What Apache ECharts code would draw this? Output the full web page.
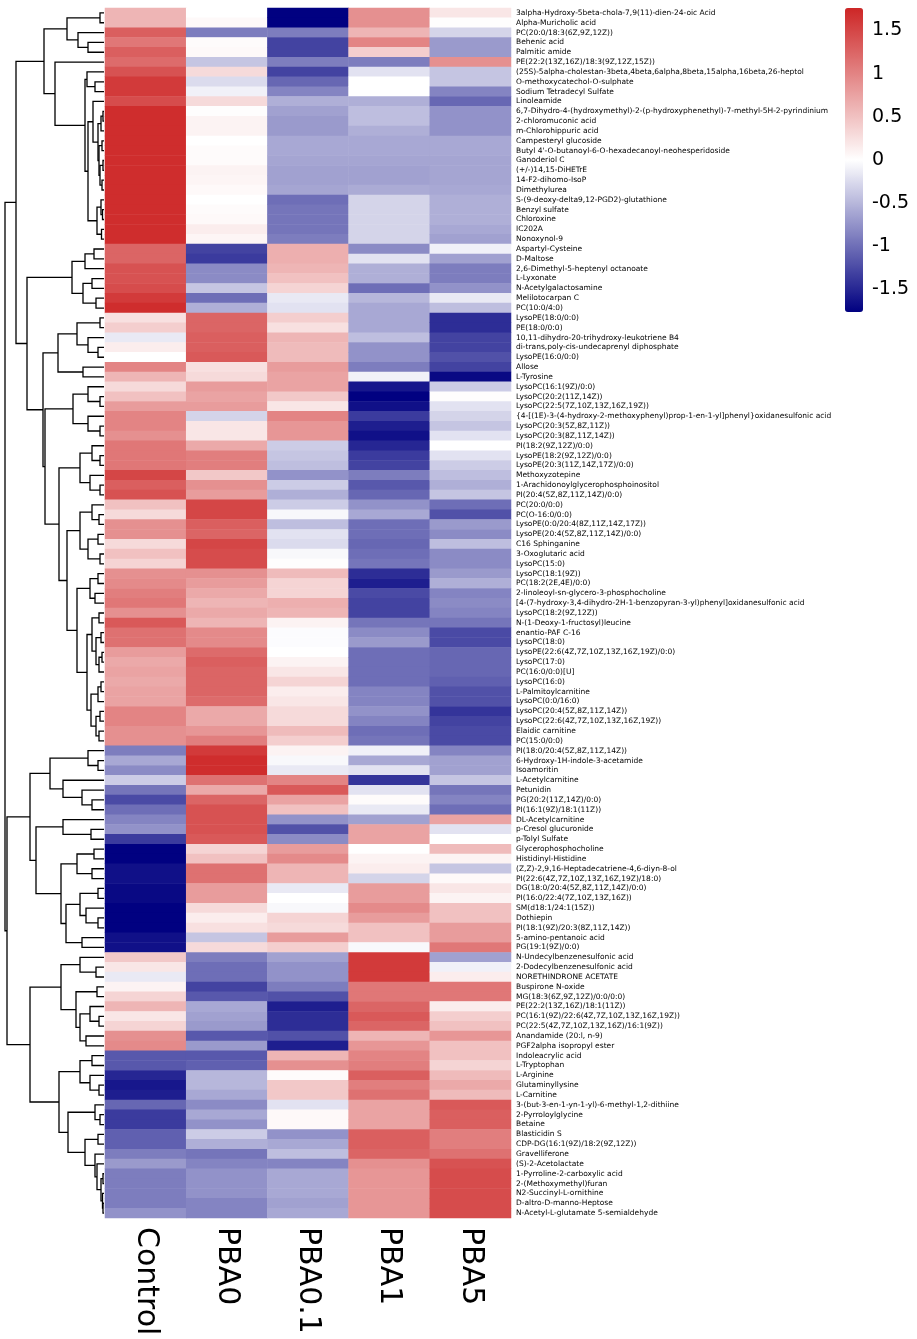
<!DOCTYPE html>
<html>
<head>
<meta charset="utf-8">
<script src="https://cdn.jsdelivr.net/npm/echarts@6/dist/echarts.min.js"></script>
<style>
  html, body { margin: 0; padding: 0; background: #fff; }
  #main { width: 917px; height: 1339px; }
</style>
</head>
<body>
<div id="main"></div>
<script>
// samples (columns) and metabolites (rows, top to bottom)
const samples = ['Control', 'PBA0', 'PBA0.1', 'PBA1', 'PBA5'];
const metabolites = [
  '3alpha-Hydroxy-5beta-chola-7,9(11)-dien-24-oic Acid', 'Alpha-Muricholic acid', 'PC(20:0/18:3(6Z,9Z,12Z))',
  'Behenic acid', 'Palmitic amide', 'PE(22:2(13Z,16Z)/18:3(9Z,12Z,15Z))',
  '(25S)-5alpha-cholestan-3beta,4beta,6alpha,8beta,15alpha,16beta,26-heptol', 'O-methoxycatechol-O-sulphate',
  'Sodium Tetradecyl Sulfate', 'Linoleamide',
  '6,7-Dihydro-4-(hydroxymethyl)-2-(p-hydroxyphenethyl)-7-methyl-5H-2-pyrindinium', '2-chloromuconic acid',
  'm-Chlorohippuric acid', 'Campesteryl glucoside', "Butyl 4'-O-butanoyl-6-O-hexadecanoyl-neohesperidoside",
  'Ganoderiol C', '(+/-)14,15-DiHETrE', '14-F2-dihomo-IsoP', 'Dimethylurea',
  'S-(9-deoxy-delta9,12-PGD2)-glutathione', 'Benzyl sulfate', 'Chloroxine', 'IC202A', 'Nonoxynol-9',
  'Aspartyl-Cysteine', 'D-Maltose', '2,6-Dimethyl-5-heptenyl octanoate', 'L-Lyxonate', 'N-Acetylgalactosamine',
  'Melilotocarpan C', 'PC(10:0/4:0)', 'LysoPE(18:0/0:0)', 'PE(18:0/0:0)',
  '10,11-dihydro-20-trihydroxy-leukotriene B4', 'di-trans,poly-cis-undecaprenyl diphosphate', 'LysoPE(16:0/0:0)',
  'Allose', 'L-Tyrosine', 'LysoPC(16:1(9Z)/0:0)', 'LysoPC(20:2(11Z,14Z))', 'LysoPC(22:5(7Z,10Z,13Z,16Z,19Z))',
  '{4-[(1E)-3-(4-hydroxy-2-methoxyphenyl)prop-1-en-1-yl]phenyl}oxidanesulfonic acid',
  'LysoPC(20:3(5Z,8Z,11Z))', 'LysoPC(20:3(8Z,11Z,14Z))', 'PI(18:2(9Z,12Z)/0:0)', 'LysoPE(18:2(9Z,12Z)/0:0)',
  'LysoPE(20:3(11Z,14Z,17Z)/0:0)', 'Methoxyzotepine', '1-Arachidonoylglycerophosphoinositol',
  'PI(20:4(5Z,8Z,11Z,14Z)/0:0)', 'PC(20:0/0:0)', 'PC(O-16:0/0:0)', 'LysoPE(0:0/20:4(8Z,11Z,14Z,17Z))',
  'LysoPE(20:4(5Z,8Z,11Z,14Z)/0:0)', 'C16 Sphinganine', '3-Oxoglutaric acid', 'LysoPC(15:0)',
  'LysoPC(18:1(9Z))', 'PC(18:2(2E,4E)/0:0)', '2-linoleoyl-sn-glycero-3-phosphocholine',
  '[4-(7-hydroxy-3,4-dihydro-2H-1-benzopyran-3-yl)phenyl]oxidanesulfonic acid', 'LysoPC(18:2(9Z,12Z))',
  'N-(1-Deoxy-1-fructosyl)leucine', 'enantio-PAF C-16', 'LysoPC(18:0)',
  'LysoPE(22:6(4Z,7Z,10Z,13Z,16Z,19Z)/0:0)', 'LysoPC(17:0)', 'PC(16:0/0:0)[U]', 'LysoPC(16:0)',
  'L-Palmitoylcarnitine', 'LysoPC(0:0/16:0)', 'LysoPC(20:4(5Z,8Z,11Z,14Z))',
  'LysoPC(22:6(4Z,7Z,10Z,13Z,16Z,19Z))', 'Elaidic carnitine', 'PC(15:0/0:0)',
  'PI(18:0/20:4(5Z,8Z,11Z,14Z))', '6-Hydroxy-1H-indole-3-acetamide', 'Isoamoritin', 'L-Acetylcarnitine',
  'Petunidin', 'PG(20:2(11Z,14Z)/0:0)', 'PI(16:1(9Z)/18:1(11Z))', 'DL-Acetylcarnitine', 'p-Cresol glucuronide',
  'p-Tolyl Sulfate', 'Glycerophosphocholine', 'Histidinyl-Histidine', '(Z,Z)-2,9,16-Heptadecatriene-4,6-diyn-8-ol',
  'PI(22:6(4Z,7Z,10Z,13Z,16Z,19Z)/18:0)', 'DG(18:0/20:4(5Z,8Z,11Z,14Z)/0:0)', 'PI(16:0/22:4(7Z,10Z,13Z,16Z))',
  'SM(d18:1/24:1(15Z))', 'Dothiepin', 'PI(18:1(9Z)/20:3(8Z,11Z,14Z))', '5-amino-pentanoic acid',
  'PG(19:1(9Z)/0:0)', 'N-Undecylbenzenesulfonic acid', '2-Dodecylbenzenesulfonic acid', 'NORETHINDRONE ACETATE',
  'Buspirone N-oxide', 'MG(18:3(6Z,9Z,12Z)/0:0/0:0)', 'PE(22:2(13Z,16Z)/18:1(11Z))',
  'PC(16:1(9Z)/22:6(4Z,7Z,10Z,13Z,16Z,19Z))', 'PC(22:5(4Z,7Z,10Z,13Z,16Z)/16:1(9Z))', 'Anandamide (20:l, n-9)',
  'PGF2alpha isopropyl ester', 'Indoleacrylic acid', 'L-Tryptophan', 'L-Arginine', 'Glutaminyllysine',
  'L-Carnitine', '3-(but-3-en-1-yn-1-yl)-6-methyl-1,2-dithiine', '2-Pyrroloylglycine', 'Betaine',
  'Blasticidin S', 'CDP-DG(16:1(9Z)/18:2(9Z,12Z))', 'Gravelliferone', '(S)-2-Acetolactate',
  '1-Pyrroline-2-carboxylic acid', '2-(Methoxymethyl)furan', 'N2-Succinyl-L-ornithine',
  'D-altro-D-manno-Heptose', 'N-Acetyl-L-glutamate 5-semialdehyde'
];

// z-scores per sample, one value per metabolite row
const control = [
  0.6, 0.6, 1.3, 1.1, 1.3, 1.2, 1.4, 1.6, 1.6, 1.45,
  1.7, 1.7, 1.7, 1.7, 1.7, 1.7, 1.7, 1.7, 1.7, 1.7,
  1.7, 1.7, 1.7, 1.7, 1.25, 1.25, 1.4, 1.4, 1.45, 1.6,
  1.7, 0.25, 0.4, -0.15, 0.15, 0, 1.0, 0.6, 0.3, 0.5,
  0.8, 1.0, 1.0, 0.9, 1.1, 1.1, 1.1, 1.5, 1.3, 1.4,
  0.5, 0.3, 0.9, 0.9, 0.3, 0.5, 0.35, 0.9, 0.95, 1.05,
  1.1, 0.9, 1.35, 1.15, 1.15, 0.8, 0.7, 0.75, 0.7, 0.75,
  0.75, 1.0, 1.0, 0.9, 0.9, -0.9, -0.6, -0.8, -0.35, -0.95,
  -1.25, -1.0, -0.85, -0.75, -1.35, -1.75, -1.75, -1.65, -1.65, -1.7,
  -1.7, -1.75, -1.75, -1.75, -1.65, -1.65, 0.45, 0.2, -0.15, 0.1,
  0.35, 0.6, 0.2, 0.35, 0.9, 0.95, -1.15, -1.15, -1.5, -1.6,
  -1.55, -1.05, -1.35, -1.35, -1.1, -1.1, -0.9, -0.7, -0.9, -0.9,
  -0.9, -0.9, -0.75
];
const pba0 = [
  0, 0.05, -0.9, 0.03, 0.05, -0.4, 0.3, -0.25, -0.1, 0.3,
  0.02, 0.1, 0.1, 0, 0.03, 0.03, 0.1, 0.08, 0.05, 0,
  0.03, 0.05, 0.15, 0.08, -1.3, -1.35, -0.8, -0.8, -0.4, -1.0,
  -0.55, 1.25, 1.25, 1.3, 1.3, 1.35, 0.25, 0.3, 0.8, 0.75,
  0.8, -0.3, 0.2, 0.2, 0.7, 1.05, 1.05, 0.45, 0.9, 0.8,
  1.5, 1.5, 1.3, 1.25, 1.5, 1.45, 1.45, 0.9, 0.8, 0.7,
  0.6, 0.7, 0.6, 0.95, 0.95, 1.2, 1.3, 1.25, 1.25, 1.25,
  1.2, 0.7, 0.7, 0.85, 1.05, 1.6, 1.7, 1.7, 1.15, 0.7,
  1.25, 1.4, 1.4, 1.4, 1.35, 0.35, 0.5, 1.15, 1.15, 0.8,
  0.8, 0.3, 0.15, 0.25, -0.4, 0.3, -0.9, -1.0, -1.0, -1.3,
  -1.15, -0.6, -0.65, -0.7, -1.15, -0.7, -1.15, -1.1, -0.5, -0.5,
  -0.6, -0.8, -0.6, -0.75, -0.35, -0.55, -0.95, -0.85, -0.75, -0.75,
  -0.75, -0.85, -0.85
];
const pba01 = [
  -1.75, -1.75, -0.9, -1.3, -1.3, -0.9, -1.3, -1.05, -0.85, -0.55,
  -0.65, -0.7, -0.7, -0.6, -0.6, -0.62, -0.65, -0.65, -0.62, -1.0,
  -0.95, -0.95, -0.95, -0.9, 0.65, 0.65, 0.6, 0.5, 0.35, -0.15,
  -0.2, 0.4, 0.25, 0.6, 0.55, 0.55, 0.8, 0.75, 0.75, 0.45,
  0.2, 1.0, 0.85, 0.85, -0.35, -0.4, -0.45, -0.75, -0.35, -0.55,
  -0.35, -0.05, -0.45, -0.2, -0.25, -0.05, 0.02, 0.55, 0.35, 0.35,
  0.65, 0.6, 0.1, -0.02, -0.02, 0.0, 0.1, 0.2, 0.35, 0.15,
  0.2, 0.3, 0.3, 0.55, 0.4, 0.1, -0.05, -0.15, 1.0, 1.35,
  0.75, 0.5, -0.75, -1.2, -0.8, 0.8, 0.95, 0.6, 0.6, -0.15,
  0.0, -0.05, 0.35, 0.3, 0.8, 0.4, -0.65, -0.75, -0.75, -0.9,
  -1.2, -1.55, -1.45, -1.45, -1.2, -1.55, 0.6, 0.9, 0.03, 0.45,
  0.45, -0.2, 0.05, 0.05, -0.75, -0.6, -0.45, -0.85, -0.6, -0.6,
  -0.6, -0.65, -0.6
];
const pba1 = [
  0.9, 0.9, 0.6, 1.0, 0.4, -0.9, -0.2, 0, 0, -0.55,
  -0.45, -0.45, -0.55, -0.6, -0.6, -0.62, -0.65, -0.65, -0.58, -0.3,
  -0.3, -0.3, -0.3, -0.3, -0.8, -0.2, -0.55, -0.55, -1.0, -0.5,
  -0.6, -0.6, -0.6, -0.45, -0.75, -0.75, -0.9, -0.1, -1.6, -1.75,
  -1.65, -1.35, -1.55, -1.65, -1.5, -1.35, -1.3, -0.9, -1.15, -1.05,
  -0.75, -0.6, -1.0, -1.0, -1.05, -1.0, -0.95, -1.45, -1.55, -1.25,
  -1.3, -1.3, -0.95, -0.8, -0.7, -1.0, -1.0, -1.0, -1.0, -0.85,
  -0.85, -0.75, -0.85, -1.0, -0.95, -0.1, -0.6, -0.2, -1.4, -0.2,
  0.03, -0.15, -0.65, 0.75, 0.75, 0.0, 0.1, 0.15, -0.3, 0.8,
  0.8, 0.95, 0.8, 0.5, 0.5, -0.05, 1.6, 1.6, 1.6, 1.1,
  1.1, 1.25, 1.35, 1.25, 0.6, 0.85, 1.0, 1.05, 1.3, 1.05,
  1.15, 0.75, 0.75, 0.75, 1.3, 1.3, 1.25, 0.9, 0.85, 0.85,
  0.85, 0.85, 0.85
];
const pba5 = [
  0.2, 0.02, -0.3, -0.7, -0.7, 0.9, -0.4, -0.4, -0.85, -1.05,
  -0.75, -0.75, -0.75, -0.6, -0.6, -0.62, -0.62, -0.62, -0.6, -0.55,
  -0.55, -0.55, -0.6, -0.65, -0.1, -0.65, -0.9, -0.9, -0.75, -0.15,
  -0.45, -1.45, -1.45, -1.3, -1.3, -1.2, -1.3, -1.7, -0.35, 0.02,
  -0.2, -0.3, -0.4, -0.2, 0.0, -0.2, -0.35, -0.45, -0.55, -0.4,
  -1.0, -1.2, -0.7, -0.8, -0.45, -0.8, -0.8, -0.7, -0.55, -0.85,
  -0.8, -0.85, -0.95, -1.25, -1.25, -1.05, -1.05, -1.05, -1.1, -1.2,
  -1.2, -1.4, -1.3, -1.25, -1.25, -0.85, -0.65, -0.65, -0.4, -0.95,
  -0.85, -1.0, 0.75, -0.2, 0.0, 0.55, 0.1, -0.4, 0.05, 0.2,
  0.1, 0.5, 0.5, 0.8, 0.8, 1.1, -0.65, -0.1, 0.15, 1.1,
  1.1, 0.15, 0.4, 0.5, 0.85, 0.5, 0.5, 0.35, 0.55, 0.7,
  0.55, 1.35, 1.3, 1.3, 1.05, 1.05, 1.15, 1.4, 1.45, 1.45,
  1.45, 1.45, 1.45
];

const colorTicks = [-1.5, -1, -0.5, 0, 0.5, 1, 1.5];
const zMin = -1.76, zMax = 1.76;

// row dendrogram: [height, left, right]; leaves are row numbers counted from 1 (top)
const upperBranch = [88,
  [60,
    [37, [4, 1, 2], [26, 3, [16, 4, 5]]],
    [49, 6, [19, [17, 7, [9, 8, 9]],
      [16, [11, 10, [6, [3, [1, 11, 12], 13], [5, [2, 14, 15], [4, [1, 16, 17], [2, 18, 19]]]]],
        [7, [3, 20, [1.5, 21, 22]], [2.5, 23, 24]]]]]],
  [77,
    [32, [19, [10, 25, 26], 27], [21, [12, 28, 29], [8, 30, 31]]],
    [61,
      [46, [27, [4, 32, 33], [16, 34, [6, 35, 36]]], [21, 37, 38]],
      [59,
        [31, [16, 39, [4, 40, 41]], [16, 42, [4, 43, 44]]],
        [45,
          [24, [12, 45, [4, 46, 47]], [14, 48, [4, 49, 50]]],
          [37,
            [24, [12, 51, [5, 52, 53]], [16, [6, 54, 55], [4, 56, 57]]],
            [27, [14, [6, 58, 59], [9, 60, 61]],
              [17, [12, [5, 62, 63], [8, [3, 64, 65], [5, [2, 66, 67], 68]]],
                [13, [6, [3, 69, 70], 71], [8, [4, 72, 73], [5, 74, 75]]]]]]]]]]];
const middleBranch = [74,
  [54, [16, 76, [6, 77, 78]], [41, 79, [22, 80, [12, 81, 82]]]],
  [68, [41, 83, [13, 84, 85]],
    [43, [27, [10, 86, 87], [12, 88, 89]],
      [38, [24, [6, 90, 91], [18, 92, [6, 93, 94]]], [22, 95, 96]]]]];
const lowerBranch = [74,
  [43, [24, 97, [8, 98, 99]], [28, [7, 100, 101], [24, [14, 102, [5, 103, 104]], [18, 105, 106]]]],
  [45, [24, [12, 107, 108], [14, 109, [5, 110, 111]]],
    [36, [9, 112, [4, 113, 114]],
      [19, [6, 115, 116], [9, 117, [7, 118, [3, [1, 119, 120], [1.5, 121, [1, 122, 123]]]]]]]]];
const rootTree = [99, upperBranch, [97, middleBranch, lowerBranch]];

const columns = [control, pba0, pba01, pba1, pba5];
const cells = [];
columns.forEach((col, c) => col.forEach((v, r) => cells.push([c, r, v])));

const links = [];
function walk(node) {
  if (typeof node === 'number') return { h: 0, y: node - 1 };
  const l = walk(node[1]), r = walk(node[2]);
  links.push([node[0], l.y, l.h, r.y, r.h]);
  return { h: node[0], y: (l.y + r.y) / 2 };
}
walk(rootTree);

const FONT = 'DejaVu Sans';
const nRows = metabolites.length;
const chart = echarts.init(document.getElementById('main'), null, { renderer: 'canvas' });

chart.setOption({
  animation: false,
  backgroundColor: '#fff',
  textStyle: { fontFamily: FONT, color: '#000' },
  grid: [
    { left: 105, top: 8, width: 406, height: 1210 },
    { left: 0, top: 8, width: 104, height: 1210 },
    { left: 845, top: 8, width: 18, height: 304 }
  ],
  xAxis: [
    {
      type: 'category', gridIndex: 0, data: samples,
      axisLine: { show: false }, axisTick: { show: false }, splitLine: { show: false },
      axisLabel: { rotate: -90, fontSize: 30, fontFamily: FONT, color: '#000', margin: 9, interval: 0 }
    },
    { type: 'value', gridIndex: 1, min: 0, max: 104, inverse: true, show: false },
    { type: 'value', gridIndex: 2, min: 0, max: 1, show: false }
  ],
  yAxis: [
    {
      type: 'category', gridIndex: 0, data: metabolites, inverse: true, position: 'right',
      axisLine: { show: false }, axisTick: { show: false }, splitLine: { show: false },
      axisLabel: { fontSize: 7.5, fontFamily: FONT, color: '#000', margin: 5, interval: 0 }
    },
    { type: 'value', gridIndex: 1, min: -0.5, max: nRows - 0.5, inverse: true, show: false },
    {
      type: 'value', gridIndex: 2, min: zMin, max: zMax, position: 'right',
      axisLine: { show: false }, axisTick: { show: false }, splitLine: { show: false },
      axisLabel: {
        customValues: colorTicks, fontSize: 19, fontFamily: FONT, color: '#000', margin: 9,
        formatter: v => String(v)
      }
    }
  ],
  visualMap: {
    type: 'continuous', seriesIndex: 0, min: zMin, max: zMax,
    calculable: false, left: 845, top: 8, padding: 0,
    itemWidth: 18, itemHeight: 304, text: null, showLabel: false,
    inRange: { color: ['#000080', '#ffffff', '#cd2626'] }
  },
  series: [
    {
      type: 'heatmap', xAxisIndex: 0, yAxisIndex: 0, data: cells,
      itemStyle: { borderWidth: 0 }, emphasis: { disabled: true }, progressive: 0
    },
    {
      type: 'custom', xAxisIndex: 1, yAxisIndex: 1, data: links, silent: true,
      renderItem: (params, api) => {
        const h = api.value(0), y1 = api.value(1), h1 = api.value(2), y2 = api.value(3), h2 = api.value(4);
        return {
          type: 'polyline',
          shape: { points: [api.coord([h1, y1]), api.coord([h, y1]), api.coord([h, y2]), api.coord([h2, y2])] },
          style: { stroke: '#000', lineWidth: 1.3, fill: null }
        };
      }
    }
  ]
});
</script>
</body>
</html>
